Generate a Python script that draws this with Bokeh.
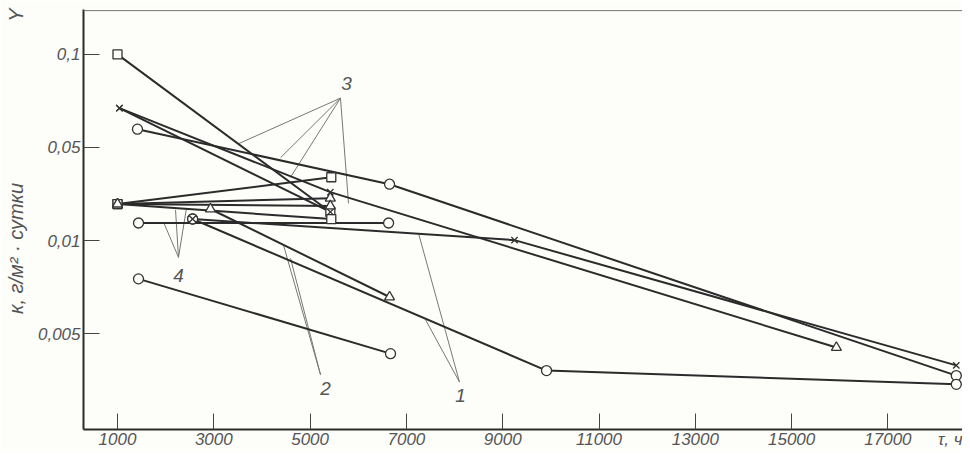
import numpy as np
from bokeh.plotting import figure
from bokeh.models import FixedTicker, Span, Range1d
from bokeh.embed import file_html
from bokeh.resources import INLINE

# ---- axis ticks -------------------------------------------------------------
k_ticks = [0.005, 0.01, 0.05, 0.1]          # K, г/м²·сутки (equally spaced on the chart's Y axis)
k_tick_labels = ["0,005", "0,01", "0,05", "0,1"]
tau_ticks = [1000, 3000, 5000, 7000, 9000, 11000, 13000, 15000, 17000]
tau_tick_labels = ["1000", "3000", "5000", "7000", "9000", "11000", "13000", "15000", "17000"]
tau_axis_name = "τ, ч"
k_axis_name = "к, г/м² · сутки"
y_axis_name = "Y"

# ---- data: tau (h), K (g/m²·day), marker per point ---------------------------
curve01_tau = [1000, 5420]
curve01_k = [0.100, 0.0164]
curve01_mk = ["square", "square"]

curve02_tau = [1040, 5420, 15930]
curve02_k = [0.067, 0.0231, 0.00451]
curve02_mk = ["x", "x", "triangle"]

curve03_tau = [1040, 5420]
curve03_k = [0.067, 0.0164]
curve03_mk = ["x", "x"]

curve04_tau = [1415, 6650, 18420]
curve04_k = [0.0573, 0.0265, 0.00366]
curve04_mk = ["circle", "circle", "circle"]

curve05_tau = [1000, 5440]
curve05_k = [0.0188, 0.0299]
curve05_mk = ["square", "square"]

curve06_tau = [1000, 5420]
curve06_k = [0.0188, 0.0208]
curve06_mk = ["triangle", "triangle"]

curve07_tau = [1000, 5420]
curve07_k = [0.0188, 0.0182]
curve07_mk = ["triangle", "triangle"]

curve08_tau = [1000, 5440]
curve08_k = [0.0188, 0.0145]
curve08_mk = ["square", "square"]

curve09_tau = [1436, 6630]
curve09_k = [0.01355, 0.01355]
curve09_mk = ["circle", "circle"]

curve10_tau = [2560, 9245, 18420]
curve10_k = [0.01452, 0.01008, 0.00395]
curve10_mk = ["circle_x", "x", "x"]

curve11_tau = [2560, 9910, 18420]
curve11_k = [0.01452, 0.0038, 0.00343]
curve11_mk = ["circle_x", "circle", "circle"]

curve12_tau = [2930, 6650]
curve12_k = [0.01726, 0.00657]
curve12_mk = ["triangle", "triangle"]

curve13_tau = [1436, 6670]
curve13_k = [0.00752, 0.00431]
curve13_mk = ["circle", "circle"]

curves = [
    (curve01_tau, curve01_k, curve01_mk), (curve02_tau, curve02_k, curve02_mk),
    (curve03_tau, curve03_k, curve03_mk), (curve04_tau, curve04_k, curve04_mk),
    (curve05_tau, curve05_k, curve05_mk), (curve06_tau, curve06_k, curve06_mk),
    (curve07_tau, curve07_k, curve07_mk), (curve08_tau, curve08_k, curve08_mk),
    (curve09_tau, curve09_k, curve09_mk), (curve10_tau, curve10_k, curve10_mk),
    (curve11_tau, curve11_k, curve11_mk), (curve12_tau, curve12_k, curve12_mk),
    (curve13_tau, curve13_k, curve13_mk),
]

# group labels with leader lines, in (tau, Y-position) units
group_labels = ["1", "2", "3", "4"]
group_text_pos = [(8124, -0.66), (5320, -0.59), (5756, 2.69), (2267, 0.63)]
group_vertex = [(8103, -0.52), (5216, -0.44), (5631, 2.53), (2267, 0.82)]
group_ends = [
    [(7251, 1.08), (7397, 0.15)],
    [(4448, 0.95), (4593, 0.81)],
    [(3513, 2.04), (4385, 1.89), (4593, 1.68), (5798, 1.40)],
    [(1955, 1.20), (2205, 1.33), (2433, 1.35)],
]


def k_to_y(k):
    """Position on the chart's Y axis: the K ticks are equally spaced,
    log-interpolated between them (extrapolated at the ends)."""
    lk = np.log10(np.asarray(k, dtype=float))
    lt = np.log10(k_ticks)
    pos = np.arange(len(k_ticks), dtype=float)
    y = np.interp(lk, lt, pos)
    lo = lk < lt[0]
    y[lo] = (lk[lo] - lt[0]) / (lt[1] - lt[0])
    hi = lk > lt[-1]
    y[hi] = pos[-1] + (lk[hi] - lt[-1]) / (lt[-1] - lt[-2])
    return y


BG = "#fdfdfa"
INK = "#2b2b2b"
TXT = "#555555"
FONT = "Liberation Sans"

X_END = 18549
p = figure(width=962, height=451, output_backend="svg", toolbar_location=None,
           x_range=Range1d(294, X_END), y_range=Range1d(-1.029, 3.482),
           min_border_left=83, min_border_right=0, min_border_top=9, min_border_bottom=21)
p.background_fill_color = BG
p.border_fill_color = BG
p.outline_line_color = None
p.grid.visible = False

for ax in (p.xaxis, p.yaxis):
    ax.axis_line_color = INK
    ax.axis_line_width = 2
    ax.major_tick_in = 16
    ax.major_tick_out = 0
    ax.major_tick_line_color = "#444444"
    ax.major_tick_line_width = 1
    ax.minor_tick_line_color = None
    ax.major_label_text_font = FONT
    ax.major_label_text_font_style = "italic"
    ax.major_label_text_color = TXT
    ax.major_label_text_font_size = "17px"

# x axis: numeric ticks plus the axis name at the right end (as in the drawing)
p.xaxis.ticker = FixedTicker(ticks=tau_ticks + [X_END])
overrides = {t: l for t, l in zip(tau_ticks, tau_tick_labels)}
overrides[X_END] = tau_axis_name
p.xaxis.major_label_overrides = overrides
p.xaxis.major_label_standoff = 0

# y axis: equally spaced K ticks
p.yaxis.ticker = FixedTicker(ticks=list(range(len(k_ticks))))
p.yaxis.major_label_overrides = {i: l for i, l in enumerate(k_tick_labels)}
p.yaxis.major_label_standoff = 3
NB = "\u00a0"
p.yaxis.axis_label = NB * 21 + k_axis_name + NB * 29 + y_axis_name
p.yaxis.axis_label_text_font = FONT
p.yaxis.axis_label_text_font_style = "italic"
p.yaxis.axis_label_text_font_size = "20px"
p.yaxis.axis_label_text_color = TXT
p.yaxis.axis_label_standoff = 8

# top frame line
p.add_layout(Span(location=3.47, dimension="width", line_color="#777777", line_width=1))

# leader lines and group numbers
for lab, tp, vx, ends in zip(group_labels, group_text_pos, group_vertex, group_ends):
    for ex, ey in ends:
        p.line([vx[0], ex], [vx[1], ey], line_color="#777777", line_width=1)
    p.text(x=[tp[0]], y=[tp[1]], text=[lab], text_align="center", text_baseline="middle",
           text_font={"value": FONT}, text_font_style="italic", text_font_size="19px",
           text_color=TXT)

# data lines
for tau, k, mk in curves:
    p.line(tau, k_to_y(k), line_color=INK, line_width=2)

# markers
sizes = {"square": 9, "circle": 10, "triangle": 10, "x": 9, "circle_x": 10}
pts = {}
for tau, k, mk in curves:
    ys = k_to_y(k)
    for t, y, m in zip(tau, ys, mk):
        pts.setdefault(m, ([], []))
        pts[m][0].append(t)
        pts[m][1].append(y)
for m, (xs, ys) in pts.items():
    p.scatter(xs, ys, marker=m, size=sizes[m], fill_color=BG, line_color="#333333",
              line_width=1.3)

open("out.html", "w").write(file_html(p, INLINE))
